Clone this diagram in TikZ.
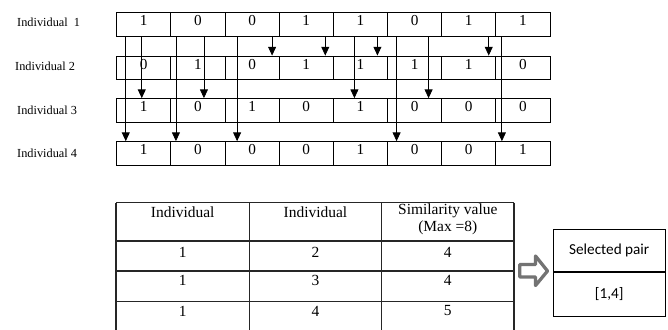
\documentclass[tikz,border=0pt]{standalone}
\usepackage{fontspec}
\setmainfont{Liberation Serif}
\newfontfamily\calibri{Carlito}
\usetikzlibrary{positioning, calc, arrows.meta}

\tikzset{
  cell/.style={draw, line width=0.8pt, minimum width=1.625cm, minimum height=0.7cm,
    inner sep=0pt, text height=9.5pt, text depth=7pt, font=\fontsize{13}{15}\selectfont},
  rowlabel/.style={anchor=west, inner sep=0pt, font=\fontsize{10.5}{12}\selectfont},
  tabtxt/.style={inner sep=0pt, font=\fontsize{13.2}{14.5}\selectfont},
  pairbox/.style={draw, line width=0.8pt, minimum width=3.35cm, inner sep=0pt,
    font=\calibri\fontsize{13}{15}\selectfont},
  arr/.style={line width=0.7pt, -{Triangle[width=6.8pt,length=7.5pt]}},
}

\begin{document}
\begin{tikzpicture}[x=0.03cm, y=-0.03cm]
    \useasboundingbox (0,0) rectangle (668,329);

    % Row labels
    \node[rowlabel] (lab1) at (17,22) {Individual\ \ 1};
    \node[rowlabel] (lab2) at (15,66) {Individual 2};
    \node[rowlabel] (lab3) at (17,110) {Individual 3};
    \node[rowlabel] (lab4) at (17,153) {Individual 4};

    % Chromosome cells
    \foreach \r/\vals/\y in {1/{1,0,0,1,1,0,1,1}/24.3, 2/{0,1,0,1,1,1,1,0}/67.7,
                             3/{1,0,1,0,1,0,0,0}/110.3, 4/{1,0,0,0,1,0,0,1}/153.3}
      \foreach \v [count=\c] in \vals
        \node[cell] (ind\r-\c) at ({116.7+54.16*(\c-0.5)},\y) {\v};

    % Matching genes: cell / x offset / target row
    \foreach \c/\d/\t in {3/20/2, 4/19/2, 5/17/2, 7/20/2,
                          1/-2/3, 2/6/3, 5/-6/3, 6/14/3,
                          1/-18/4, 2/-22/4, 3/-15/4, 6/-18/4, 8/-21/4}
      \draw[arr] ($(ind1-\c.south)+(\d,0)$) -- ($(ind\t-\c.north)+(\d,0)$);

    % Similarity table
    \draw[line width=0.9pt, black!85] (116,202.7) -- (514,202.7)
        (116,241) -- (514,241) (116,271) -- (514,271) (116,301.3) -- (514,301.3);
    \draw[line width=0.9pt, black!85] (116,202.7) -- (116,330) (249.3,202.7) -- (249.3,330)
        (381.7,202.7) -- (381.7,330) (514,202.7) -- (514,330);

    \node[tabtxt] (h1) at (182.7,212) {Individual};
    \node[tabtxt] (h2) at (315.5,212) {Individual};
    \node[tabtxt] (h3) at (447.8,211) {Similarity value};
    \node[tabtxt] (h4) at (447.8,228) {(Max =8)};

    \node[tabtxt] (a1) at (182.7,252) {1};
    \node[tabtxt] (b1) at (315.5,252) {2};
    \node[tabtxt] (s1) at (447.8,252) {4};
    \node[tabtxt] (a2) at (182.7,280) {1};
    \node[tabtxt] (b2) at (315.5,280) {3};
    \node[tabtxt] (s2) at (447.8,280) {4};
    \node[tabtxt] (a3) at (182.7,311) {1};
    \node[tabtxt] (b3) at (315.5,311) {4};
    \node[tabtxt] (s3) at (447.8,311) {5};

    % Result
    \node[pairbox, minimum height=1.25cm] (sel) at (609.2,250.2) {Selected pair};
    \node[pairbox, minimum height=1.32cm, below=0pt of sel] (pair) {[1,4]};

    % Block arrow
    \draw[line width=2.8pt, black!55, fill=white, line join=round]
        (519.8,264.5) -- (535.5,264.5) -- (535.5,256) -- (547.5,271) -- (535.5,285.5)
        -- (535.5,277) -- (519.8,277) -- cycle;
\end{tikzpicture}
\end{document}
